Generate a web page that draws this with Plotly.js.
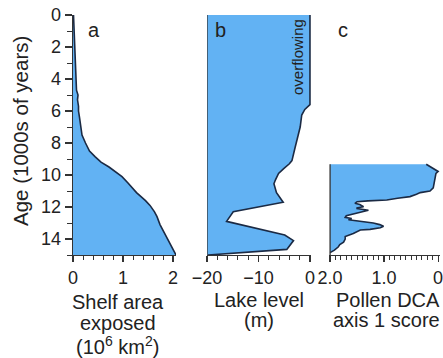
<!DOCTYPE html>
<html><head><meta charset="utf-8">
<script src="https://cdn.plot.ly/plotly-3.0.1.min.js"></script>
<style>html,body{margin:0;padding:0;background:#fff}#chart{width:443px;height:358px}</style>
</head><body><div id="chart"></div>
<script>
// Panel a: shelf area exposed (10^6 km2) vs age (kyr)
const ageA   = [0, 1, 2, 3, 4, 4.7, 5.0, 5.3, 5.7, 6.0, 6.4, 7.0, 7.5, 8.0, 8.5, 8.85, 9.2, 9.5, 9.8, 10.1, 10.5, 11.1, 11.6, 11.9, 12.3, 12.6, 13.1, 13.9, 14.5, 15.0];
const shelf  = [0.01, 0.02, 0.03, 0.04, 0.05, 0.07, 0.10, 0.09, 0.11, 0.11, 0.13, 0.15, 0.18, 0.25, 0.33, 0.44, 0.56, 0.72, 0.86, 0.98, 1.10, 1.27, 1.45, 1.54, 1.63, 1.68, 1.74, 1.87, 1.97, 2.06];
// Panel b: lake level (m)
const ageB   = [0, 5.6, 5.9, 6.25, 7.0, 7.8, 8.3, 9.1, 9.3, 9.6, 9.9, 10.3, 10.55, 11.1, 11.7, 12.3, 12.9, 13.75, 14.1, 14.65, 15.0];
const lake   = [0, 0, -1.0, -1.6, -1.9, -2.6, -2.9, -3.5, -4.0, -5.1, -6.1, -6.7, -7.0, -6.5, -5.2, -14.9, -16.2, -4.9, -3.2, -4.5, -19.8];
// Panel c: pollen DCA axis 1 score
const ageC   = [9.33, 9.45, 9.55, 9.7, 9.78, 9.9, 10.1, 10.4, 10.8, 11.0, 11.1, 11.2, 11.35, 11.45, 11.56, 11.62, 11.67, 11.77, 11.85, 11.98, 12.05, 12.1, 12.2, 12.33, 12.45, 12.55, 12.65, 12.72, 12.8, 12.9, 13.0, 13.1, 13.2, 13.3, 13.4, 13.44, 13.55, 13.65, 13.85, 14.0, 14.2, 14.35, 14.5, 14.7, 14.85];
const pollen = [0.22, 0.16, 0.12, 0.02, 0.0, 0.04, 0.05, 0.06, 0.09, 0.15, 0.33, 0.40, 0.52, 0.75, 0.95, 1.3, 1.5, 1.54, 1.45, 1.38, 1.5, 1.5, 1.29, 1.44, 1.58, 1.70, 1.72, 1.60, 1.66, 1.38, 1.20, 1.08, 1.01, 1.07, 1.26, 1.44, 1.50, 1.57, 1.72, 1.72, 1.75, 1.82, 1.85, 1.92, 2.0];

const AGE_MIN = 0, AGE_MAX = 15;
const B_BASE = -20, C_BASE = 2.0;
const ageTicks = [0, 2, 4, 6, 8, 10, 12, 14];
const ageMinor = [1, 3, 5, 7, 9, 11, 13, 15];
const aTicks = [0, 1, 2], aLabels = ['0', '1', '2'];
const bTicks = [-20, -10, 0], bLabels = ['\u221220', '\u221210', '0'];
const cTicks = [2, 1, 0], cLabels = ['2.0', '1.0', '0'];

const FILL = '#62b2f3', EDGE = '#1b2a44', AX = '#333';
const FONT = 'Liberation Sans, Arial, Helvetica, sans-serif';

function seq(a, b, s) { const r = []; for (let v = a; v <= b + 1e-9; v += s) r.push(+v.toFixed(3)); return r; }

const traces = [
  // panel a
  {x: shelf, y: ageA, xaxis: 'x', yaxis: 'y', type: 'scatter', mode: 'lines', fill: 'tozerox',
   fillcolor: FILL, line: {color: EDGE, width: 1.6}, hoverinfo: 'skip'},
  // panel b fill
  {x: [B_BASE].concat(lake, [B_BASE]), y: [ageB[0]].concat(ageB, [AGE_MAX]), xaxis: 'x2', yaxis: 'y',
   type: 'scatter', mode: 'none', fill: 'toself', fillcolor: FILL, hoverinfo: 'skip'},
  {x: lake, y: ageB, xaxis: 'x2', yaxis: 'y', type: 'scatter', mode: 'lines', line: {color: EDGE, width: 1.6}, hoverinfo: 'skip'},
  {x: [B_BASE, B_BASE], y: [AGE_MIN, AGE_MAX], xaxis: 'x2', yaxis: 'y', type: 'scatter', mode: 'lines', line: {color: AX, width: 1.3}, hoverinfo: 'skip'},
  // panel c fill
  {x: [C_BASE].concat(pollen, [C_BASE]), y: [ageC[0]].concat(ageC, [ageC[ageC.length - 1]]), xaxis: 'x3', yaxis: 'y',
   type: 'scatter', mode: 'none', fill: 'toself', fillcolor: FILL, hoverinfo: 'skip'},
  {x: pollen, y: ageC, xaxis: 'x3', yaxis: 'y', type: 'scatter', mode: 'lines', line: {color: EDGE, width: 1.6}, hoverinfo: 'skip'},
  {x: [C_BASE, C_BASE], y: [ageC[0], AGE_MAX], xaxis: 'x3', yaxis: 'y', type: 'scatter', mode: 'lines', line: {color: AX, width: 1.3}, hoverinfo: 'skip'}
];

function xax(domain, range, tv, tt, minor) {
  return {domain: domain, range: range, anchor: 'y', showgrid: false, zeroline: false,
    showline: true, linecolor: AX, linewidth: 1.3, ticks: 'outside', ticklen: 6, tickwidth: 1.2, tickcolor: AX,
    tickmode: 'array', tickvals: tv, ticktext: tt, tickfont: {family: FONT, size: 18, color: '#222'},
    ticklabeloverflow: 'allow',
    minor: {tickmode: 'array', tickvals: minor, ticks: 'outside', ticklen: 4, tickwidth: 1, tickcolor: AX, showgrid: false},
    fixedrange: true};
}

const W = 443, H = 358;
const px = v => v / W, py = v => 1 - v / H;

const layout = {
  width: W, height: H, autosize: false, showlegend: false,
  margin: {l: 0, r: 0, t: 0, b: 0, pad: 0},
  paper_bgcolor: '#fff', plot_bgcolor: 'rgba(0,0,0,0)',
  font: {family: FONT, color: '#222'},
  xaxis: xax([px(73), px(176)], [0, 2.06], aTicks, aLabels, seq(0, 2, 0.2)),
  xaxis2: xax([px(207), px(311)], [-20, 0.2], bTicks, bLabels, seq(-20, 0, 2)),
  xaxis3: xax([px(329), px(440)], [2.02, -0.035], cTicks, cLabels, seq(0, 2, 0.1)),
  yaxis: {domain: [py(255), py(15)], range: [AGE_MAX, AGE_MIN], anchor: 'x', showgrid: false, zeroline: false,
    showline: true, linecolor: AX, linewidth: 1.3, ticks: 'outside', ticklen: 7, tickwidth: 1.2, tickcolor: AX,
    tickmode: 'array', tickvals: ageTicks, ticktext: ageTicks.map(String), tickfont: {family: FONT, size: 18, color: '#222'},
    minor: {tickmode: 'array', tickvals: ageMinor, ticks: 'outside', ticklen: 5, tickwidth: 1, tickcolor: AX, showgrid: false},
    fixedrange: true},
  annotations: [
    {text: 'Age (1000s of years)', textangle: -90, x: px(21), y: py(131), xref: 'paper', yref: 'paper', xanchor: 'center', yanchor: 'middle', showarrow: false, font: {family: FONT, size: 20.5, color: '#222'}},
    {text: 'a', x: px(86), y: py(30), xref: 'paper', yref: 'paper', xanchor: 'left', yanchor: 'middle', showarrow: false, font: {family: FONT, size: 20, color: '#222'}},
    {text: 'b', x: px(213), y: py(30), xref: 'paper', yref: 'paper', xanchor: 'left', yanchor: 'middle', showarrow: false, font: {family: FONT, size: 20, color: '#222'}},
    {text: 'c', x: px(336), y: py(30), xref: 'paper', yref: 'paper', xanchor: 'left', yanchor: 'middle', showarrow: false, font: {family: FONT, size: 20, color: '#222'}},
    {text: 'overflowing', textangle: -90, x: px(298), y: py(57), xref: 'paper', yref: 'paper', xanchor: 'center', yanchor: 'middle', showarrow: false, font: {family: FONT, size: 15, color: '#222'}},
    {text: 'Shelf area', x: px(118), y: py(302), xref: 'paper', yref: 'paper', xanchor: 'center', yanchor: 'middle', showarrow: false, font: {family: FONT, size: 20, color: '#222'}},
    {text: 'exposed', x: px(118), y: py(323), xref: 'paper', yref: 'paper', xanchor: 'center', yanchor: 'middle', showarrow: false, font: {family: FONT, size: 20, color: '#222'}},
    {text: '(10<sup>6</sup> km<sup>2</sup>)', x: px(118), y: py(345), xref: 'paper', yref: 'paper', xanchor: 'center', yanchor: 'middle', showarrow: false, font: {family: FONT, size: 20, color: '#222'}},
    {text: 'Lake level', x: px(259), y: py(300), xref: 'paper', yref: 'paper', xanchor: 'center', yanchor: 'middle', showarrow: false, font: {family: FONT, size: 20, color: '#222'}},
    {text: '(m)', x: px(259), y: py(320), xref: 'paper', yref: 'paper', xanchor: 'center', yanchor: 'middle', showarrow: false, font: {family: FONT, size: 20, color: '#222'}},
    {text: 'Pollen DCA', x: px(388), y: py(300), xref: 'paper', yref: 'paper', xanchor: 'center', yanchor: 'middle', showarrow: false, font: {family: FONT, size: 20, color: '#222'}},
    {text: 'axis 1 score', x: px(386), y: py(320), xref: 'paper', yref: 'paper', xanchor: 'center', yanchor: 'middle', showarrow: false, font: {family: FONT, size: 20, color: '#222'}}
  ]
};

Plotly.newPlot('chart', traces, layout, {staticPlot: true, displayModeBar: false});
</script></body></html>
